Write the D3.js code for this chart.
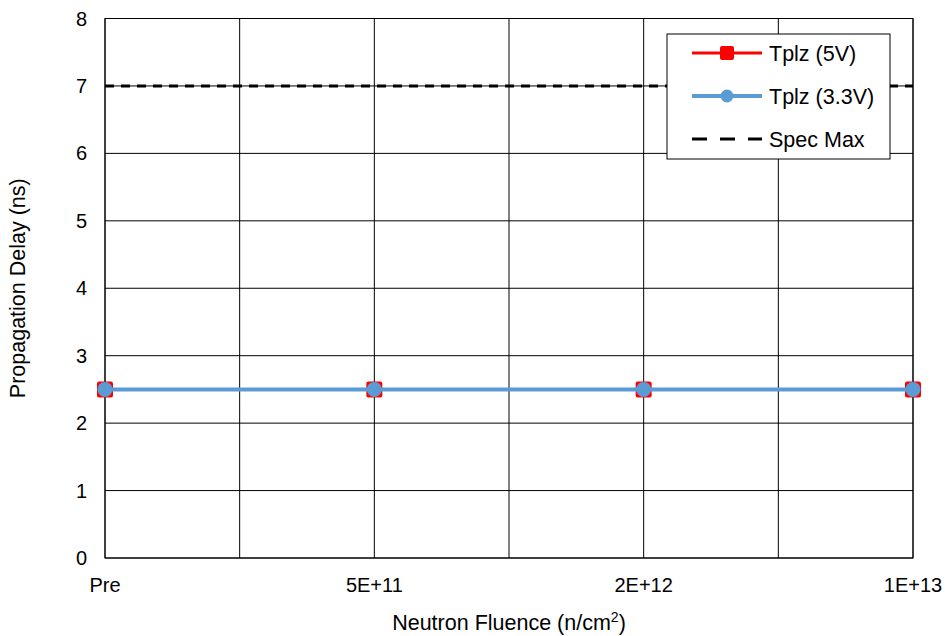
<!DOCTYPE html>
<html>
<head>
<meta charset="utf-8">
<script src="https://cdn.jsdelivr.net/npm/d3@7"></script>
<style>
  body { margin: 0; background: #fff; }
  text { font-family: "Liberation Sans", Arial, sans-serif; fill: #000; }
</style>
</head>
<body>
<div class="chart"></div>
<script>
var categories = ["Pre", "5E+11", "2E+12", "1E+13"];
var tplz5V = [2.5, 2.5, 2.5, 2.5];
var tplz33V = [2.5, 2.5, 2.5, 2.5];
var specMax = [7, 7, 7, 7];
var yTicks = [0, 1, 2, 3, 4, 5, 6, 7, 8];

var svgWidth = 948;
var svgHeight = 636;
var margin = { top: 18.5, right: 35, bottom: 78, left: 105 };
var width = svgWidth - margin.left - margin.right;
var height = svgHeight - margin.top - margin.bottom;

var svg = d3.select(".chart")
  .append("svg")
  .attr("width", svgWidth)
  .attr("height", svgHeight);

var chartGroup = svg.append("g")
  .attr("transform", `translate(${margin.left}, ${margin.top})`);

var x = d3.scaleLinear().domain([0, categories.length - 1]).range([0, width]);
var y = d3.scaleLinear().domain([0, 8]).range([height, 0]);

// gridlines
var xGrid = d3.range(0, categories.length - 0.99, 0.5);
chartGroup.append("g")
  .selectAll("line")
  .data(xGrid)
  .enter()
  .append("line")
  .attr("x1", d => x(d)).attr("x2", d => x(d))
  .attr("y1", 0).attr("y2", height)
  .attr("stroke", "#000").attr("stroke-width", 1);

chartGroup.append("g")
  .selectAll("line")
  .data(yTicks)
  .enter()
  .append("line")
  .attr("x1", 0).attr("x2", width)
  .attr("y1", d => y(d)).attr("y2", d => y(d))
  .attr("stroke", "#000").attr("stroke-width", 1);

chartGroup.append("rect")
  .attr("width", width).attr("height", height)
  .attr("fill", "none").attr("stroke", "#000").attr("stroke-width", 1);

// axis tick labels
chartGroup.append("g")
  .selectAll("text")
  .data(yTicks)
  .enter()
  .append("text")
  .attr("x", -18)
  .attr("y", d => y(d))
  .attr("dy", "0.35em")
  .attr("text-anchor", "end")
  .style("font-size", "20px")
  .text(d => d);

chartGroup.append("g")
  .selectAll("text")
  .data(categories)
  .enter()
  .append("text")
  .attr("x", (d, i) => x(i))
  .attr("y", height + 34)
  .attr("text-anchor", "middle")
  .style("font-size", "20px")
  .text(d => d);

// spec max
var line = d3.line().x((d, i) => x(i)).y(d => y(d));

chartGroup.append("path")
  .datum(specMax)
  .attr("d", line)
  .attr("fill", "none")
  .attr("stroke", "#000")
  .attr("stroke-width", 3)
  .attr("stroke-dasharray", "9,7");

// Tplz (5V)
chartGroup.append("path")
  .datum(tplz5V)
  .attr("d", line)
  .attr("fill", "none")
  .attr("stroke", "#ff0000")
  .attr("stroke-width", 3);

chartGroup.selectAll(".sq")
  .data(tplz5V)
  .enter()
  .append("rect")
  .attr("class", "sq")
  .attr("x", (d, i) => x(i) - 8)
  .attr("y", d => y(d) - 8)
  .attr("width", 16).attr("height", 16)
  .attr("rx", 2)
  .attr("fill", "#ff0000");

// Tplz (3.3V)
chartGroup.append("path")
  .datum(tplz33V)
  .attr("d", line)
  .attr("fill", "none")
  .attr("stroke", "#5b9bd5")
  .attr("stroke-width", 4);

chartGroup.selectAll(".dot")
  .data(tplz33V)
  .enter()
  .append("circle")
  .attr("class", "dot")
  .attr("cx", (d, i) => x(i))
  .attr("cy", d => y(d))
  .attr("r", 7.5)
  .attr("fill", "#5b9bd5");

// legend
var legend = svg.append("g").attr("transform", "translate(667, 34)");
legend.append("rect")
  .attr("width", 223).attr("height", 125)
  .attr("fill", "#fff").attr("stroke", "#000").attr("stroke-width", 1);

var legendItems = [
  { name: "Tplz (5V)", color: "#ff0000", marker: "square", width: 3 },
  { name: "Tplz (3.3V)", color: "#5b9bd5", marker: "circle", width: 4 },
  { name: "Spec Max", color: "#000", marker: "none", width: 3 }
];

legendItems.forEach(function(item, i) {
  var gy = 19 + i * 43;
  var g = legend.append("g").attr("transform", `translate(0, ${gy})`);
  var ln = g.append("line")
    .attr("x1", 25).attr("x2", 95)
    .attr("y1", 0).attr("y2", 0)
    .attr("stroke", item.color)
    .attr("stroke-width", item.width);
  if (item.marker === "none") {
    ln.attr("stroke-dasharray", "15,13");
  }
  if (item.marker === "square") {
    g.append("rect").attr("x", 53).attr("y", -7).attr("width", 14).attr("height", 14)
      .attr("rx", 2).attr("fill", item.color);
  } else if (item.marker === "circle") {
    g.append("circle").attr("cx", 60).attr("cy", 0).attr("r", 6.5).attr("fill", item.color);
  }
  g.append("text")
    .attr("x", 102).attr("y", 0).attr("dy", "0.35em")
    .style("font-size", "21.5px")
    .text(item.name);
});

// axis titles
svg.append("text")
  .attr("x", margin.left + width / 2)
  .attr("y", 630)
  .attr("text-anchor", "middle")
  .style("font-size", "21.5px")
  .html("Neutron Fluence (n/cm<tspan dy='-8' style='font-size:14px'>2</tspan><tspan dy='8'>)</tspan>");

svg.append("text")
  .attr("transform", `translate(25, ${margin.top + height / 2}) rotate(-90)`)
  .attr("text-anchor", "middle")
  .style("font-size", "21.5px")
  .text("Propagation Delay (ns)");
</script>
</body>
</html>
